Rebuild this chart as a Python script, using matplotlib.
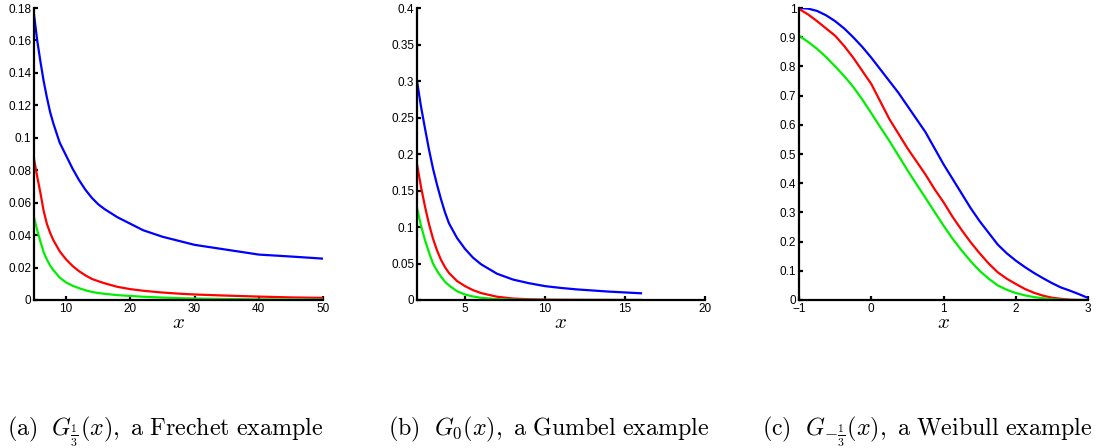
import matplotlib
matplotlib.use('Agg')
import matplotlib.pyplot as plt
from matplotlib.ticker import FuncFormatter

plt.rcParams['font.family'] = 'Liberation Sans'
plt.rcParams['mathtext.fontset'] = 'cm'
plt.rcParams['font.size'] = 8.5

# (a) Frechet
xa = [5, 5.5, 6, 6.5, 7, 7.5, 8, 9, 10, 11, 12, 13, 14, 15, 16, 18, 20, 22, 25, 28, 30,
      35, 40, 45, 50]
a_blue = [0.176, 0.160, 0.147, 0.135, 0.125, 0.116, 0.109, 0.097, 0.089, 0.081, 0.074,
          0.068, 0.063, 0.059, 0.056, 0.051, 0.047, 0.043, 0.039, 0.036, 0.034, 0.031,
          0.028, 0.0268, 0.0255]
a_red = [0.087, 0.076, 0.066, 0.055, 0.047, 0.0415, 0.037, 0.030, 0.025, 0.021, 0.0178,
         0.0152, 0.013, 0.0116, 0.0103, 0.0081, 0.0067, 0.0057, 0.0046, 0.0038, 0.0034,
         0.0027, 0.0021, 0.0016, 0.0013]
a_green = [0.051, 0.043, 0.036, 0.0295, 0.025, 0.0213, 0.0185, 0.0138, 0.0108, 0.0088,
           0.0073, 0.006, 0.005, 0.0043, 0.0038, 0.003, 0.0025, 0.002, 0.0015, 0.0011,
           0.0009, 0.0006, 0.0004, 0.0003, 0.0002]

# (b) Gumbel
xb = [2, 2.25, 2.5, 2.75, 3, 3.25, 3.5, 3.75, 4, 4.5, 5, 5.5, 6, 7, 8, 9, 10, 11, 12, 14, 16]
b_blue = [0.30, 0.265, 0.235, 0.206, 0.18, 0.158, 0.138, 0.12, 0.105, 0.085, 0.07, 0.058,
          0.049, 0.036, 0.028, 0.023, 0.019, 0.0165, 0.0145, 0.0115, 0.0092]
b_red = [0.186, 0.155, 0.128, 0.104, 0.084, 0.068, 0.055, 0.045, 0.037, 0.026, 0.019,
         0.0135, 0.0095, 0.0045, 0.002, 0.001, 0.0005, 0.0003, 0.0002, 0.0001, 0.0]
b_green = [0.126, 0.102, 0.082, 0.065, 0.050, 0.04, 0.032, 0.025, 0.02, 0.012, 0.0075,
           0.0048, 0.003, 0.0012, 0.0005, 0.0002, 0.0001, 0.0, 0.0, 0.0, 0.0]

# (c) Weibull
xc = [-1, -0.875, -0.75, -0.625, -0.5, -0.375, -0.25, -0.125, 0, 0.125, 0.25, 0.375, 0.5,
      0.625, 0.75, 0.875, 1, 1.125, 1.25, 1.375, 1.5, 1.625, 1.75, 1.875, 2, 2.125, 2.25,
      2.375, 2.5, 2.625, 2.75, 2.875, 3]
c_blue = [1.0, 0.998, 0.99, 0.975, 0.955, 0.93, 0.90, 0.867, 0.83, 0.79, 0.75, 0.71, 0.665,
          0.62, 0.575, 0.52, 0.465, 0.415, 0.365, 0.315, 0.27, 0.23, 0.19, 0.16, 0.135,
          0.113, 0.093, 0.075, 0.058, 0.043, 0.032, 0.02, 0.007]
c_red = [0.997, 0.978, 0.955, 0.93, 0.905, 0.87, 0.83, 0.785, 0.74, 0.68, 0.62, 0.57, 0.52,
         0.475, 0.43, 0.38, 0.335, 0.285, 0.24, 0.198, 0.16, 0.125, 0.095, 0.073, 0.055,
         0.038, 0.025, 0.015, 0.008, 0.004, 0.001, 0.0, 0.0]
c_green = [0.905, 0.884, 0.86, 0.832, 0.80, 0.767, 0.73, 0.687, 0.64, 0.592, 0.545, 0.495,
           0.445, 0.397, 0.35, 0.302, 0.255, 0.21, 0.17, 0.133, 0.1, 0.073, 0.05, 0.035,
           0.024, 0.016, 0.01, 0.006, 0.003, 0.001, 0.0, 0.0, 0.0]

panels = [
    (xa, a_blue, a_red, a_green, (5, 50), [10, 20, 30, 40, 50], (0, 0.18),
     [0, 0.02, 0.04, 0.06, 0.08, 0.1, 0.12, 0.14, 0.16, 0.18]),
    (xb, b_blue, b_red, b_green, (2, 20), [5, 10, 15, 20], (0, 0.4),
     [0, 0.05, 0.1, 0.15, 0.2, 0.25, 0.3, 0.35, 0.4]),
    (xc, c_blue, c_red, c_green, (-1, 3), [-1, 0, 1, 2, 3], (0, 1),
     [0, 0.1, 0.2, 0.3, 0.4, 0.5, 0.6, 0.7, 0.8, 0.9, 1]),
]
lefts = [34, 417, 799]
widths = [289, 288, 289]
captions = [
    r'$\mathrm{(a)}\ \ G_{\frac{1}{3}}(x)\mathrm{,\ a\ Frechet\ example}$',
    r'$\mathrm{(b)}\ \ G_0(x)\mathrm{,\ a\ Gumbel\ example}$',
    r'$\mathrm{(c)}\ \ G_{-\frac{1}{3}}(x)\mathrm{,\ a\ Weibull\ example}$',
]
cap_x = [7, 388, 762]

W, H = 1097, 448
fig = plt.figure(figsize=(W / 100, H / 100), dpi=100)
fmt = FuncFormatter(lambda v, p: ('%g' % v).replace('-', '\u2212'))

for i, (x, yb, yr, yg, xl, xt, yl, yt) in enumerate(panels):
    ax = fig.add_axes([lefts[i] / W, (H - 300) / H, widths[i] / W, 292 / H])
    ax.plot(x, yb, color='#0000ff', lw=1.6)
    ax.plot(x, yr, color='#ff0000', lw=1.6)
    ax.plot(x, yg, color='#00ee00', lw=1.6)
    ax.set_xlim(xl)
    ax.set_ylim(yl)
    ax.set_xticks(xt)
    ax.set_yticks(yt)
    ax.xaxis.set_major_formatter(fmt)
    ax.yaxis.set_major_formatter(fmt)
    for s in ['top', 'right']:
        ax.spines[s].set_visible(False)
    for s in ['left', 'bottom']:
        ax.spines[s].set_linewidth(1.6)
    ax.tick_params(direction='in', length=3, width=1.6, pad=2, labelsize=8.5)
    ax.set_xlabel(r'$x$', fontsize=15, labelpad=-1)
    fig.text(cap_x[i] / W, 13 / H, captions[i], fontsize=17.3, va='baseline', ha='left')

plt.savefig('out.png', dpi=100)
